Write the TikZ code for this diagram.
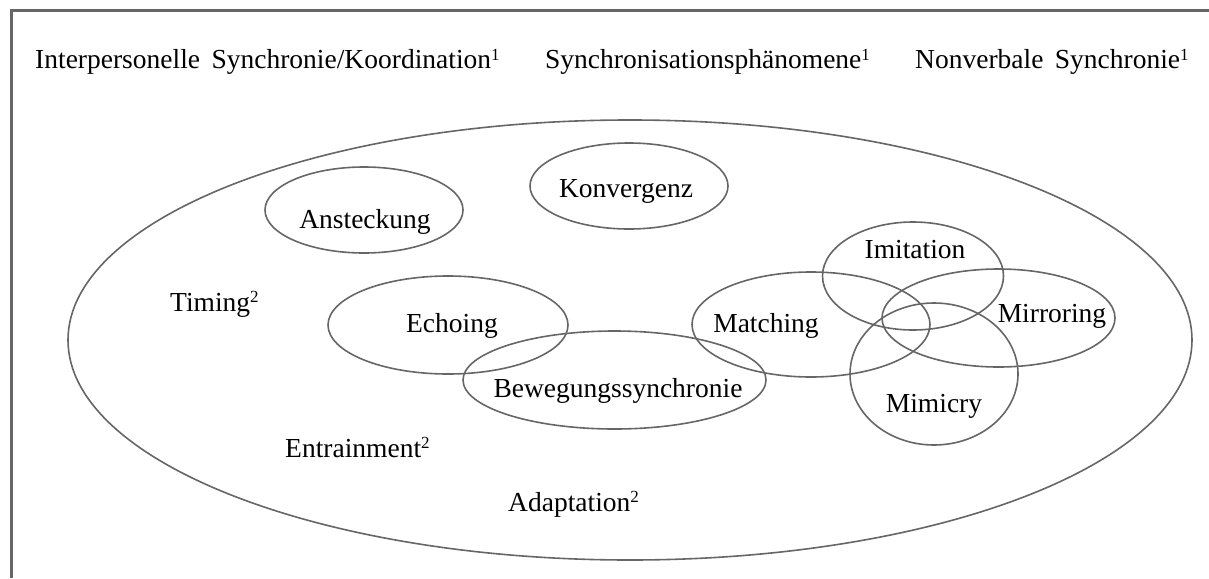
\documentclass[tikz,border=0pt]{standalone}
\usepackage{fontspec}
\setmainfont{Liberation Serif}
\newcommand{\supnum}[1]{\raisebox{0.3em}{\fontsize{17}{17}\selectfont #1}}
\begin{document}
\begin{tikzpicture}[x=1pt,y=-1pt,
  frameline/.style={draw=black!60, line width=3pt},
  ring/.style={draw=black!60, line width=1.6pt},
  lbl/.style={anchor=base, inner sep=0pt, font=\fontsize{27.5}{33}\selectfont}]
\useasboundingbox (0,0) rectangle (1209,578);
% frame (top and left edges)
\draw[frameline] (11,578) -- (11,11) -- (1209,11);
% headings
\node[lbl, anchor=base west] (hA) at (35,69) {Interpersonelle\, Synchronie/Koordination\supnum{1}};
\node[lbl, anchor=base west] (hB) at (545,69) {Synchronisationsphänomene\supnum{1}};
\node[lbl, anchor=base west] (hC) at (915,69) {Nonverbale\, Synchronie\supnum{1}};
% outer ellipse
\draw[ring] (630,340) ellipse (562 and 220);
% inner ellipses
\draw[ring] (364,210) ellipse (99 and 43);
\draw[ring] (629,186) ellipse (99 and 43);
\draw[ring] (448,325) ellipse (120 and 49);
\draw[ring] (614.5,380) ellipse (151.5 and 49);
\draw[ring] (811,324.5) ellipse (119 and 52.5);
\draw[ring] (913,276) ellipse (90.5 and 54);
\draw[ring] (998.5,318) ellipse (116.5 and 49);
\draw[ring] (934,374) ellipse (84 and 71);
% labels
\node[lbl] (ansteckung) at (365,228) {Ansteckung};
\node[lbl] (konvergenz) at (626,197) {Konvergenz};
\node[lbl] (echoing) at (452,332) {Echoing};
\node[lbl] (bewegung) at (618,397) {Bewegungssynchronie};
\node[lbl] (matching) at (766,332) {Matching};
\node[lbl] (imitation) at (915,258) {Imitation};
\node[lbl] (mirroring) at (1052,322) {Mirroring};
\node[lbl] (mimicry) at (934,412) {Mimicry};
\node[lbl, anchor=base west] (timing) at (170,311) {Timing\supnum{2}};
\node[lbl, anchor=base west] (entrainment) at (285,457) {Entrainment\supnum{2}};
\node[lbl, anchor=base west] (adaptation) at (508,511) {Adaptation\supnum{2}};
\end{tikzpicture}
\end{document}
